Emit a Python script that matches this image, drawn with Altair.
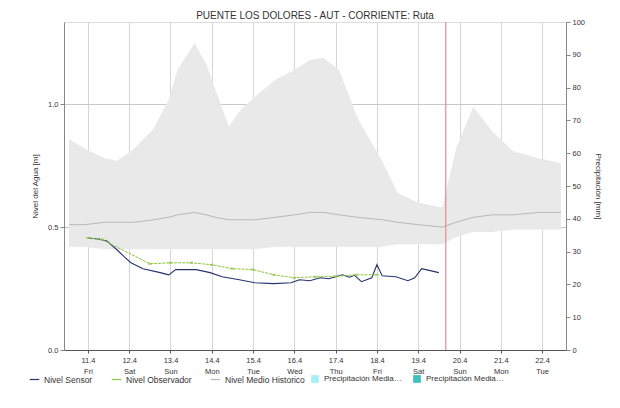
import altair as alt
import pandas as pd

TITLE = "PUENTE LOS DOLORES - AUT - CORRIENTE: Ruta"

# Historical band (min / max) and historical mean level [m]
band_times = ["2025-04-10T13:00", "2025-04-10T22:00", "2025-04-11T10:00", "2025-04-11T17:00",
              "2025-04-12T03:00", "2025-04-12T14:00", "2025-04-12T23:00", "2025-04-13T04:00",
              "2025-04-13T14:00", "2025-04-13T21:00", "2025-04-14T02:00", "2025-04-14T10:00",
              "2025-04-14T17:00", "2025-04-15T01:00", "2025-04-15T13:00", "2025-04-16T00:00",
              "2025-04-16T09:00", "2025-04-16T17:00", "2025-04-17T02:00", "2025-04-17T13:00",
              "2025-04-18T03:00", "2025-04-18T12:00", "2025-04-19T00:00", "2025-04-19T14:00",
              "2025-04-19T22:00", "2025-04-20T08:00", "2025-04-20T19:00", "2025-04-21T07:00",
              "2025-04-21T22:00", "2025-04-22T11:00"]
band_max = [0.86, 0.82, 0.78, 0.77, 0.82, 0.90, 1.02, 1.14, 1.25, 1.16, 1.06, 0.91,
            0.98, 1.03, 1.10, 1.14, 1.18, 1.19, 1.14, 0.94, 0.77, 0.64, 0.60, 0.58,
            0.82, 0.99, 0.89, 0.81, 0.78, 0.76]
band_min = [0.42, 0.42, 0.41, 0.41, 0.41, 0.41, 0.41, 0.41, 0.41, 0.41, 0.41, 0.41,
            0.41, 0.41, 0.42, 0.42, 0.42, 0.42, 0.42, 0.42, 0.42, 0.43, 0.43, 0.43,
            0.46, 0.48, 0.48, 0.49, 0.49, 0.49]
mean_hist = [0.51, 0.51, 0.52, 0.52, 0.52, 0.53, 0.54, 0.55, 0.56, 0.55, 0.54, 0.53,
             0.53, 0.53, 0.54, 0.55, 0.56, 0.56, 0.55, 0.54, 0.53, 0.52, 0.51, 0.50,
             0.52, 0.54, 0.55, 0.55, 0.56, 0.56]

# Sensor level [m]
sensor_times = ["2025-04-11T00:00", "2025-04-11T06:00", "2025-04-11T11:00", "2025-04-11T17:00",
                "2025-04-11T21:00", "2025-04-12T01:00", "2025-04-12T08:00", "2025-04-12T18:00",
                "2025-04-12T23:00", "2025-04-13T03:00", "2025-04-13T15:00", "2025-04-13T23:00",
                "2025-04-14T06:00", "2025-04-14T16:00", "2025-04-15T01:00", "2025-04-15T12:00",
                "2025-04-15T22:00", "2025-04-16T03:00", "2025-04-16T09:00", "2025-04-16T15:00",
                "2025-04-16T20:00", "2025-04-17T01:00", "2025-04-17T04:00", "2025-04-17T08:00",
                "2025-04-17T11:00", "2025-04-17T15:00", "2025-04-17T21:00", "2025-04-18T00:00",
                "2025-04-18T03:00", "2025-04-18T11:00", "2025-04-18T18:00", "2025-04-18T22:00",
                "2025-04-19T02:00", "2025-04-19T07:00", "2025-04-19T12:00"]
sensor_level = [0.456, 0.452, 0.444, 0.407, 0.380, 0.355, 0.331, 0.315, 0.306, 0.327,
                0.327, 0.315, 0.298, 0.286, 0.274, 0.270, 0.274, 0.286, 0.282, 0.294,
                0.290, 0.300, 0.306, 0.296, 0.304, 0.278, 0.294, 0.347, 0.302, 0.298,
                0.282, 0.294, 0.331, 0.323, 0.315]

# Observer level [m]
obs_times = ["2025-04-11T00:00", "2025-04-11T08:00", "2025-04-12T12:00", "2025-04-13T00:00",
             "2025-04-13T12:00", "2025-04-14T00:00", "2025-04-14T12:00", "2025-04-15T00:00",
             "2025-04-15T12:00", "2025-04-16T00:00", "2025-04-16T12:00", "2025-04-17T00:00",
             "2025-04-17T12:00", "2025-04-18T00:00"]
obs_level = [0.456, 0.450, 0.351, 0.355, 0.355, 0.347, 0.331, 0.327, 0.306, 0.294,
             0.298, 0.300, 0.306, 0.306]

# Daily precipitation [mm] (none recorded / forecast)
precip_days = ["2025-04-11", "2025-04-12", "2025-04-13", "2025-04-14", "2025-04-15", "2025-04-16",
               "2025-04-17", "2025-04-18", "2025-04-19", "2025-04-20", "2025-04-21", "2025-04-22"]
precip_mm = [0, 0, 0, 0, 0, 0, 0, 0, 0, 0, 0, 0]
precip_kind = ["Precipitación Media Diaria"] * 9 + ["Precipitación Media Pronosticada"] * 3

now_time = ["2025-04-19T16:00"]
tick_days = [11, 12, 13, 14, 15, 16, 17, 18, 19, 20, 21, 22]

SENSOR = "Nivel Sensor"
OBS = "Nivel Observador"
MEAN = "Nivel Medio Historico"
line_domain = [SENSOR, OBS, MEAN]
line_range = ["#27336e", "#8dc63f", "#b8b8b8"]
prec_domain = ["Precipitación Media Diaria", "Precipitación Media Pronosticada"]
prec_range = ["#a8eef6", "#3fbfbf"]

FONT = "Liberation Sans"

band_df = pd.DataFrame({"t": band_times, "lo": band_min, "hi": band_max})
mean_df = pd.DataFrame({"t": band_times, "v": mean_hist, "s": MEAN})
sensor_df = pd.DataFrame({"t": sensor_times, "v": sensor_level, "s": SENSOR})
obs_df = pd.DataFrame({"t": obs_times, "v": obs_level, "s": OBS})
prec_df = pd.DataFrame({"t": precip_days, "v": precip_mm, "k": precip_kind})
now_df = pd.DataFrame({"t": now_time})

x_scale = alt.Scale(domain=[alt.DateTime(year=2025, month=4, date=10, hours=13),
                            alt.DateTime(year=2025, month=4, date=22, hours=11)])
x_axis = alt.Axis(
    title=None,
    values=[alt.DateTime(year=2025, month=4, date=d) for d in tick_days],
    labelExpr="[timeFormat(datum.value, '%-d.%-m'), timeFormat(datum.value, '%a')]",
    grid=True, gridColor="#d6d6d6", gridWidth=1,
    domainColor="#555555", tickColor="#555555", tickSize=3,
    labelFontSize=7.5, labelColor="#333333", labelFont=FONT, labelPadding=3,
    labelLineHeight=11,
)
xenc = alt.X("t:T", scale=x_scale, axis=x_axis)

y_scale = alt.Scale(domain=[0, 1.335], nice=False, zero=False)
y_axis = alt.Axis(
    title="Nivel del Agua [m]", values=[0, 0.5, 1.0], format=".1f",
    grid=True, gridColor="#c8c8c8", domainColor="#888888", tickColor="#888888",
    tickSize=4, labelFontSize=7.5, labelColor="#333333", labelFont=FONT,
    titleFontSize=8, titleFont=FONT, titleFontWeight="normal", titleColor="#333333",
    titlePadding=8,
)
stroke_enc = alt.Stroke("s:N", scale=alt.Scale(domain=line_domain, range=line_range),
                        legend=alt.Legend(title=None, orient="none", legendX=-35, legendY=352,
                                          direction="horizontal", symbolType="stroke",
                                          symbolSize=90, symbolStrokeWidth=1.2,
                                          labelFontSize=8.5, labelFont=FONT, labelColor="#333333",
                                          columnPadding=16))

band = alt.Chart(band_df).mark_area(fill="#e9e9e9", opacity=1).encode(
    x=xenc, y=alt.Y("lo:Q", scale=y_scale, axis=y_axis), y2="hi:Q")
mean_line = alt.Chart(mean_df).mark_line(strokeWidth=1).encode(
    x="t:T", y=alt.Y("v:Q", scale=y_scale), stroke=stroke_enc)
sensor_line = alt.Chart(sensor_df).mark_line(strokeWidth=1.1).encode(
    x="t:T", y=alt.Y("v:Q", scale=y_scale), stroke=stroke_enc)
obs_line = alt.Chart(obs_df).mark_line(strokeWidth=1, strokeDash=[3, 1]).encode(
    x="t:T", y=alt.Y("v:Q", scale=y_scale), stroke=stroke_enc)
obs_pts = alt.Chart(obs_df).mark_point(shape="stroke", size=12, color="#8dc63f").encode(
    x="t:T", y=alt.Y("v:Q", scale=y_scale))
now_rule = alt.Chart(now_df).mark_rule(color="#e58a98", strokeWidth=1.2).encode(x="t:T")

level = alt.layer(band, mean_line, sensor_line, obs_line, obs_pts, now_rule)

precip = alt.Chart(prec_df).mark_bar(width=20).encode(
    x="t:T",
    y=alt.Y("v:Q", scale=alt.Scale(domain=[0, 100], nice=False),
            axis=alt.Axis(title="Precipitación [mm]", orient="right", values=list(range(0, 101, 10)),
                          grid=False, domainColor="#888888", tickColor="#888888", tickSize=4,
                          labelFontSize=7.5, labelColor="#333333", labelFont=FONT,
                          titleFontSize=8, titleFont=FONT, titleFontWeight="normal",
                          titleColor="#333333", titlePadding=9)),
    fill=alt.Fill("k:N", scale=alt.Scale(domain=prec_domain, range=prec_range),
                  legend=alt.Legend(title=None, orient="none", legendX=246, legendY=352,
                                    direction="horizontal", symbolType="square", symbolSize=60,
                                    labelFontSize=8, labelFont=FONT, labelColor="#333333",
                                    labelLimit=80, columnPadding=10)),
)

chart = alt.layer(level, precip).resolve_scale(y="independent").properties(
    width=502, height=328,
    title=alt.TitleParams(TITLE, fontSize=10, font=FONT, fontWeight="normal", color="#333333",
                          anchor="middle", offset=0, dy=3, frame="group"),
    autosize=alt.AutoSizeParams(type="none"),
    padding={"left": 56, "top": 14, "right": 46, "bottom": 50},
).configure_view(stroke="#9a9a9a", strokeWidth=1).configure(background="white")

chart.save("out.html", embed_options={"renderer": "svg", "actions": False})
